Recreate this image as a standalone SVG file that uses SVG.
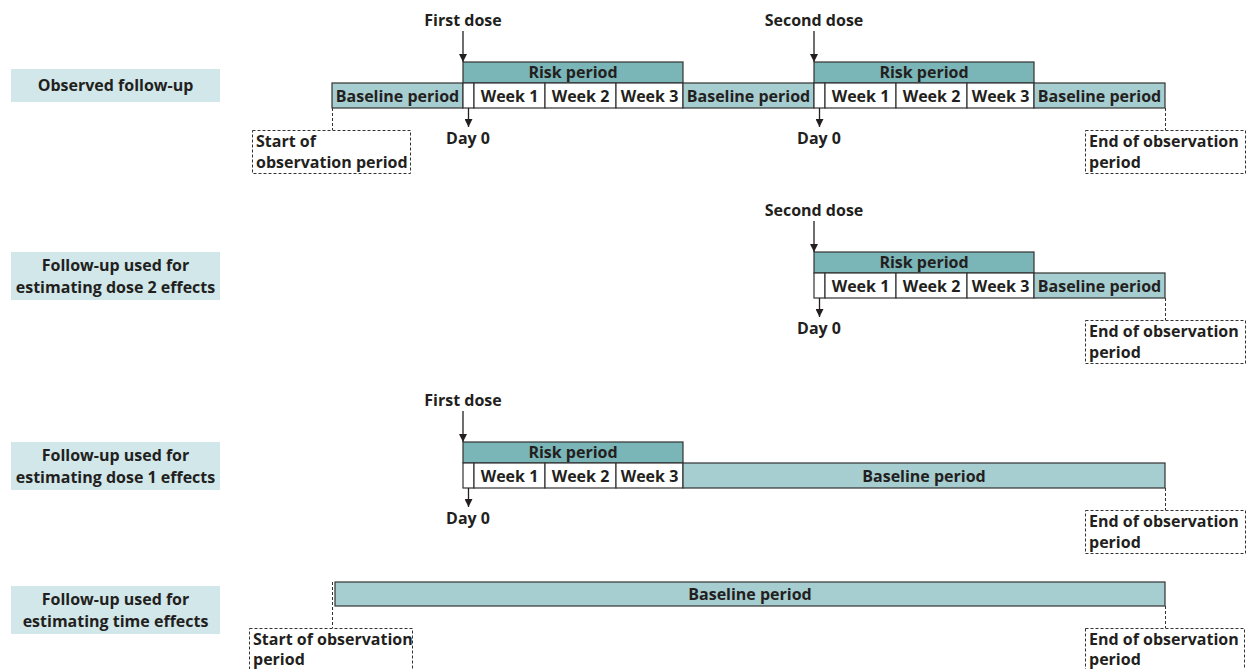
<svg xmlns="http://www.w3.org/2000/svg" width="1248" height="669" viewBox="0 0 1248 669">
<defs>
<marker id="ah" viewBox="0 0 10 10" refX="10" refY="5" markerWidth="8" markerHeight="8" markerUnits="userSpaceOnUse" orient="auto">
<path d="M0,0 L10,5 L0,10 z" fill="#231f20"/>
</marker>
<style>
text{font-family:"Open Sans","Liberation Sans",sans-serif;font-weight:700;font-size:16px;fill:#231f20}
.c{text-anchor:middle}
.lab{fill:#d1e7e9}
.risk{fill:#7ab5b7;stroke:#333;stroke-width:1.2}
.base{fill:#a6cdd0;stroke:#333;stroke-width:1.2}
.wk{fill:#fff;stroke:#333;stroke-width:1.2}
.dbox{fill:none;stroke:#333;stroke-width:1;stroke-dasharray:3 2}
.dl{stroke:#333;stroke-width:1;stroke-dasharray:3 2;fill:none}
.ar{stroke:#231f20;stroke-width:1.3;fill:none;marker-end:url(#ah)}
</style>
</defs>
<rect width="1248" height="669" fill="#fff"/>

<!-- Row labels -->
<g id="label-observed">
<rect class="lab" x="11" y="69" width="209" height="33"/>
<text class="c" x="115.5" y="91">Observed follow-up</text>
</g>
<g id="label-dose2">
<rect class="lab" x="11" y="252" width="209" height="48"/>
<text class="c" x="115.5" y="271">Follow-up used for</text>
<text class="c" x="115.5" y="293">estimating dose 2 effects</text>
</g>
<g id="label-dose1">
<rect class="lab" x="11" y="442" width="209" height="48"/>
<text class="c" x="115.5" y="461">Follow-up used for</text>
<text class="c" x="115.5" y="483">estimating dose 1 effects</text>
</g>
<g id="label-time">
<rect class="lab" x="11" y="586" width="209" height="48"/>
<text class="c" x="115.5" y="605">Follow-up used for</text>
<text class="c" x="115.5" y="627">estimating time effects</text>
</g>

<!-- Row 1 -->
<g id="r1-baseline1"><rect class="base" x="332" y="83" width="131" height="25"/><text class="c" x="397.5" y="101.5">Baseline period</text></g>
<g id="r1-risk1"><rect class="risk" x="463" y="62" width="220" height="21"/><text class="c" x="573" y="78">Risk period</text></g>
<g id="r1-day0a"><rect class="wk" x="463" y="83" width="11" height="25"/></g>
<g id="r1-w1a"><rect class="wk" x="474" y="83" width="71" height="25"/><text class="c" x="509.5" y="101.5">Week 1</text></g>
<g id="r1-w2a"><rect class="wk" x="545" y="83" width="71" height="25"/><text class="c" x="580.5" y="101.5">Week 2</text></g>
<g id="r1-w3a"><rect class="wk" x="616" y="83" width="67" height="25"/><text class="c" x="649.5" y="101.5">Week 3</text></g>
<g id="r1-baseline2"><rect class="base" x="683" y="83" width="131" height="25"/><text class="c" x="748.5" y="101.5">Baseline period</text></g>
<g id="r1-risk2"><rect class="risk" x="814" y="62" width="220" height="21"/><text class="c" x="924" y="78">Risk period</text></g>
<g id="r1-day0b"><rect class="wk" x="814" y="83" width="11" height="25"/></g>
<g id="r1-w1b"><rect class="wk" x="825" y="83" width="71" height="25"/><text class="c" x="860.5" y="101.5">Week 1</text></g>
<g id="r1-w2b"><rect class="wk" x="896" y="83" width="71" height="25"/><text class="c" x="931.5" y="101.5">Week 2</text></g>
<g id="r1-w3b"><rect class="wk" x="967" y="83" width="67" height="25"/><text class="c" x="1000.5" y="101.5">Week 3</text></g>
<g id="r1-baseline3"><rect class="base" x="1034" y="83" width="131" height="25"/><text class="c" x="1099.5" y="101.5">Baseline period</text></g>
<g id="r1-firstdose"><text class="c" x="463" y="26">First dose</text></g>
<g id="r1-seconddose"><text class="c" x="814" y="26">Second dose</text></g>
<g id="r1-day0-label-a"><text class="c" x="468" y="144">Day 0</text></g>
<g id="r1-day0-label-b"><text class="c" x="819" y="144">Day 0</text></g>
<g id="r1-start"><rect class="dbox" x="252.5" y="130.5" width="158" height="43"/><text x="256" y="147">Start of</text><text x="256" y="168">observation period</text></g>
<g id="r1-end"><rect class="dbox" x="1085.5" y="130.5" width="160" height="43"/><text x="1089" y="147">End of observation</text><text x="1089" y="168">period</text></g>

<!-- Row 2 -->
<g id="r2-risk"><rect class="risk" x="814" y="252" width="220" height="21"/><text class="c" x="924" y="268">Risk period</text></g>
<g id="r2-day0"><rect class="wk" x="814" y="273" width="11" height="25"/></g>
<g id="r2-w1"><rect class="wk" x="825" y="273" width="71" height="25"/><text class="c" x="860.5" y="291.5">Week 1</text></g>
<g id="r2-w2"><rect class="wk" x="896" y="273" width="71" height="25"/><text class="c" x="931.5" y="291.5">Week 2</text></g>
<g id="r2-w3"><rect class="wk" x="967" y="273" width="67" height="25"/><text class="c" x="1000.5" y="291.5">Week 3</text></g>
<g id="r2-baseline"><rect class="base" x="1034" y="273" width="131" height="25"/><text class="c" x="1099.5" y="291.5">Baseline period</text></g>
<g id="r2-seconddose"><text class="c" x="814" y="216">Second dose</text></g>
<g id="r2-day0-label"><text class="c" x="819" y="334">Day 0</text></g>
<g id="r2-end"><rect class="dbox" x="1085.5" y="320.5" width="160" height="43"/><text x="1089" y="337">End of observation</text><text x="1089" y="358">period</text></g>

<!-- Row 3 -->
<g id="r3-risk"><rect class="risk" x="463" y="442" width="220" height="21"/><text class="c" x="573" y="458">Risk period</text></g>
<g id="r3-day0"><rect class="wk" x="463" y="463" width="11" height="25"/></g>
<g id="r3-w1"><rect class="wk" x="474" y="463" width="71" height="25"/><text class="c" x="509.5" y="481.5">Week 1</text></g>
<g id="r3-w2"><rect class="wk" x="545" y="463" width="71" height="25"/><text class="c" x="580.5" y="481.5">Week 2</text></g>
<g id="r3-w3"><rect class="wk" x="616" y="463" width="67" height="25"/><text class="c" x="649.5" y="481.5">Week 3</text></g>
<g id="r3-baseline"><rect class="base" x="683" y="463" width="482" height="25"/><text class="c" x="924" y="481.5">Baseline period</text></g>
<g id="r3-firstdose"><text class="c" x="463" y="406">First dose</text></g>
<g id="r3-day0-label"><text class="c" x="468" y="524">Day 0</text></g>
<g id="r3-end"><rect class="dbox" x="1085.5" y="510.5" width="160" height="43"/><text x="1089" y="527">End of observation</text><text x="1089" y="548">period</text></g>

<!-- Row 4 -->
<g id="r4-baseline"><rect class="base" x="335" y="582" width="830" height="24"/><text class="c" x="750" y="599.5">Baseline period</text></g>
<g id="r4-start"><rect class="dbox" x="249.5" y="628.5" width="163" height="45"/><text x="253" y="645">Start of observation</text><text x="253" y="665">period</text></g>
<g id="r4-end"><rect class="dbox" x="1085.5" y="628.5" width="159" height="45"/><text x="1089" y="645">End of observation</text><text x="1089" y="665">period</text></g>

<!-- Connectors -->
<g id="connectors">
<line class="ar" x1="463" y1="31" x2="463" y2="62"/>
<line class="ar" x1="814" y1="31" x2="814" y2="62"/>
<line class="ar" x1="468.5" y1="108" x2="468.5" y2="127"/>
<line class="ar" x1="819.5" y1="108" x2="819.5" y2="127"/>
<line class="dl" x1="332.5" y1="108" x2="332.5" y2="130"/>
<line class="dl" x1="1165.5" y1="108" x2="1165.5" y2="130"/>
<line class="ar" x1="814" y1="221" x2="814" y2="252"/>
<line class="ar" x1="819.5" y1="298" x2="819.5" y2="317"/>
<line class="dl" x1="1165.5" y1="298" x2="1165.5" y2="320"/>
<line class="ar" x1="463" y1="411" x2="463" y2="442"/>
<line class="ar" x1="468.5" y1="488" x2="468.5" y2="507"/>
<line class="dl" x1="1165.5" y1="488" x2="1165.5" y2="510"/>
<line class="dl" x1="332.5" y1="582" x2="332.5" y2="628"/>
<line class="dl" x1="1165.5" y1="606" x2="1165.5" y2="628"/>
</g>
</svg>
